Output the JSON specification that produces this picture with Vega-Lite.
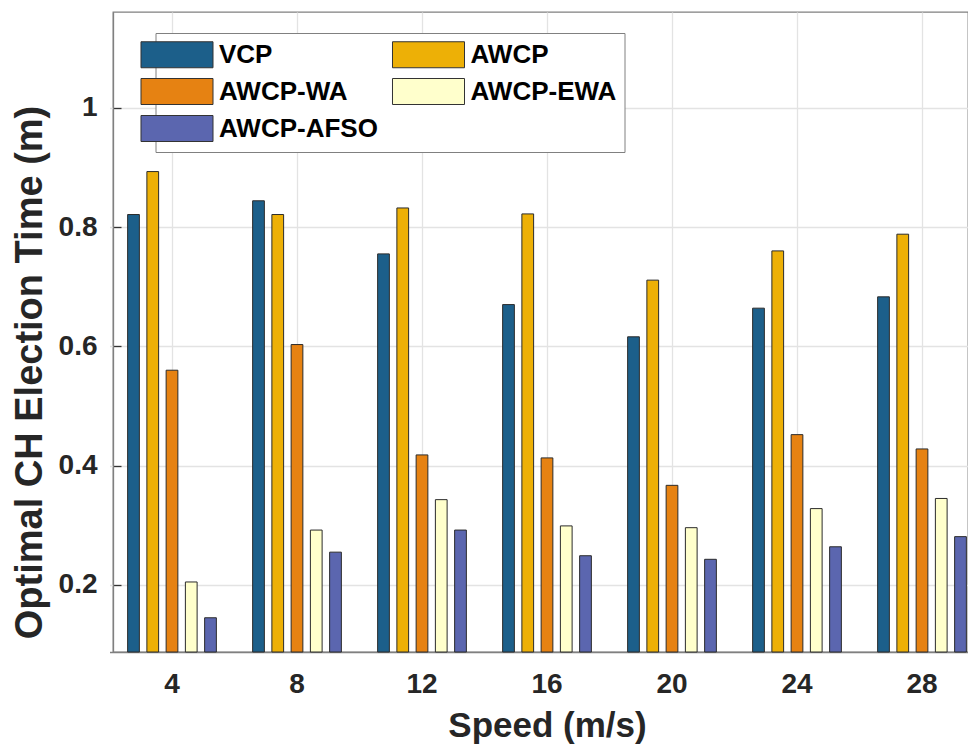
{
  "$schema": "https://vega.github.io/schema/vega-lite/v6.json",
  "width": 855,
  "height": 640,
  "autosize": "none",
  "padding": {"left": 113, "top": 12, "right": 0, "bottom": 92},
  "background": "white",
  "config": {"view": {"stroke": "#808080", "strokeWidth": 1.3}, "font": "Liberation Sans"},
  "data": {"values": [
    {"speed": 4, "method": "VCP", "value": 0.821},
    {"speed": 4, "method": "AWCP", "value": 0.893},
    {"speed": 4, "method": "AWCP-WA", "value": 0.560},
    {"speed": 4, "method": "AWCP-EWA", "value": 0.205},
    {"speed": 4, "method": "AWCP-AFSO", "value": 0.145},
    {"speed": 8, "method": "VCP", "value": 0.844},
    {"speed": 8, "method": "AWCP", "value": 0.821},
    {"speed": 8, "method": "AWCP-WA", "value": 0.603},
    {"speed": 8, "method": "AWCP-EWA", "value": 0.292},
    {"speed": 8, "method": "AWCP-AFSO", "value": 0.255},
    {"speed": 12, "method": "VCP", "value": 0.755},
    {"speed": 12, "method": "AWCP", "value": 0.832},
    {"speed": 12, "method": "AWCP-WA", "value": 0.418},
    {"speed": 12, "method": "AWCP-EWA", "value": 0.343},
    {"speed": 12, "method": "AWCP-AFSO", "value": 0.292},
    {"speed": 16, "method": "VCP", "value": 0.670},
    {"speed": 16, "method": "AWCP", "value": 0.822},
    {"speed": 16, "method": "AWCP-WA", "value": 0.413},
    {"speed": 16, "method": "AWCP-EWA", "value": 0.299},
    {"speed": 16, "method": "AWCP-AFSO", "value": 0.249},
    {"speed": 20, "method": "VCP", "value": 0.616},
    {"speed": 20, "method": "AWCP", "value": 0.711},
    {"speed": 20, "method": "AWCP-WA", "value": 0.367},
    {"speed": 20, "method": "AWCP-EWA", "value": 0.296},
    {"speed": 20, "method": "AWCP-AFSO", "value": 0.243},
    {"speed": 24, "method": "VCP", "value": 0.664},
    {"speed": 24, "method": "AWCP", "value": 0.760},
    {"speed": 24, "method": "AWCP-WA", "value": 0.452},
    {"speed": 24, "method": "AWCP-EWA", "value": 0.328},
    {"speed": 24, "method": "AWCP-AFSO", "value": 0.264},
    {"speed": 28, "method": "VCP", "value": 0.683},
    {"speed": 28, "method": "AWCP", "value": 0.788},
    {"speed": 28, "method": "AWCP-WA", "value": 0.428},
    {"speed": 28, "method": "AWCP-EWA", "value": 0.345},
    {"speed": 28, "method": "AWCP-AFSO", "value": 0.281}
  ]},
  "mark": {"type": "bar", "stroke": "#2b2b2b", "strokeWidth": 1},
  "encoding": {
    "x": {
      "field": "speed", "type": "ordinal", "sort": [4, 8, 12, 16, 20, 24, 28],
      "scale": {"range": [-3.5, 871.5], "paddingInner": 0, "paddingOuter": 0},
      "axis": {
        "bandPosition": 0.5, "labelAngle": 0, "grid": true, "gridColor": "#e3e3e3", "gridWidth": 1.3,
        "domainColor": "#808080", "domainWidth": 1.3, "tickColor": "#333333", "tickSize": -8, "tickWidth": 1.3,
        "labelFont": "Liberation Sans", "labelFontSize": 28, "labelFontWeight": "bold", "labelColor": "#262626", "labelPadding": 26,
        "title": "Speed (m/s)", "titleFont": "Liberation Sans", "titleFontSize": 35, "titleFontWeight": "bold", "titleColor": "#262626",
        "titleX": 434, "titleY": 84, "titleBaseline": "alphabetic", "titleAlign": "center"
      }
    },
    "xOffset": {
      "field": "method", "type": "nominal", "sort": ["VCP", "AWCP", "AWCP-WA", "AWCP-EWA", "AWCP-AFSO"],
      "scale": {"paddingInner": 0.39, "paddingOuter": 0.942}
    },
    "y": {
      "field": "value", "type": "quantitative",
      "scale": {"domain": [0.0876, 1.1605], "nice": false, "zero": false, "clamp": true},
      "axis": {
        "values": [0.2, 0.4, 0.6, 0.8, 1], "format": "~g", "grid": true, "gridColor": "#e3e3e3", "gridWidth": 1.3,
        "domainColor": "#808080", "domainWidth": 1.3, "tickColor": "#333333", "tickSize": -8, "tickWidth": 1.3,
        "labelFont": "Liberation Sans", "labelFontSize": 28, "labelFontWeight": "bold", "labelColor": "#262626", "labelPadding": 24,
        "title": "Optimal CH Election Time (m)", "titleFont": "Liberation Sans", "titleFontSize": 38, "titleFontWeight": "bold", "titleColor": "#262626",
        "titleX": -83, "titleY": 360, "titleBaseline": "middle", "titleAlign": "center", "titleAngle": 270
      }
    },
    "color": {
      "field": "method", "type": "nominal",
      "scale": {"domain": ["VCP", "AWCP-WA", "AWCP-AFSO", "AWCP", "AWCP-EWA"], "range": ["#1c5f8a", "#e68212", "#5b66af", "#edb006", "#ffffcc"]},
      "legend": {
        "orient": "none", "legendX": 42.5, "legendY": 21, "columns": 2, "title": null,
        "symbolType": "M-2.77,-1H2.77V1H-2.77Z", "symbolSize": 676, "symbolStrokeColor": "#333333", "symbolStrokeWidth": 1, "symbolOpacity": 1,
        "labelFont": "Liberation Sans", "labelFontSize": 26, "labelFontWeight": "bold", "labelColor": "#000000", "labelOffset": 28.5, "labelLimit": 400,
        "columnPadding": 11.5, "rowPadding": 6, "padding": 8, "strokeColor": "#808080", "fillColor": "white"
      }
    }
  }
}
